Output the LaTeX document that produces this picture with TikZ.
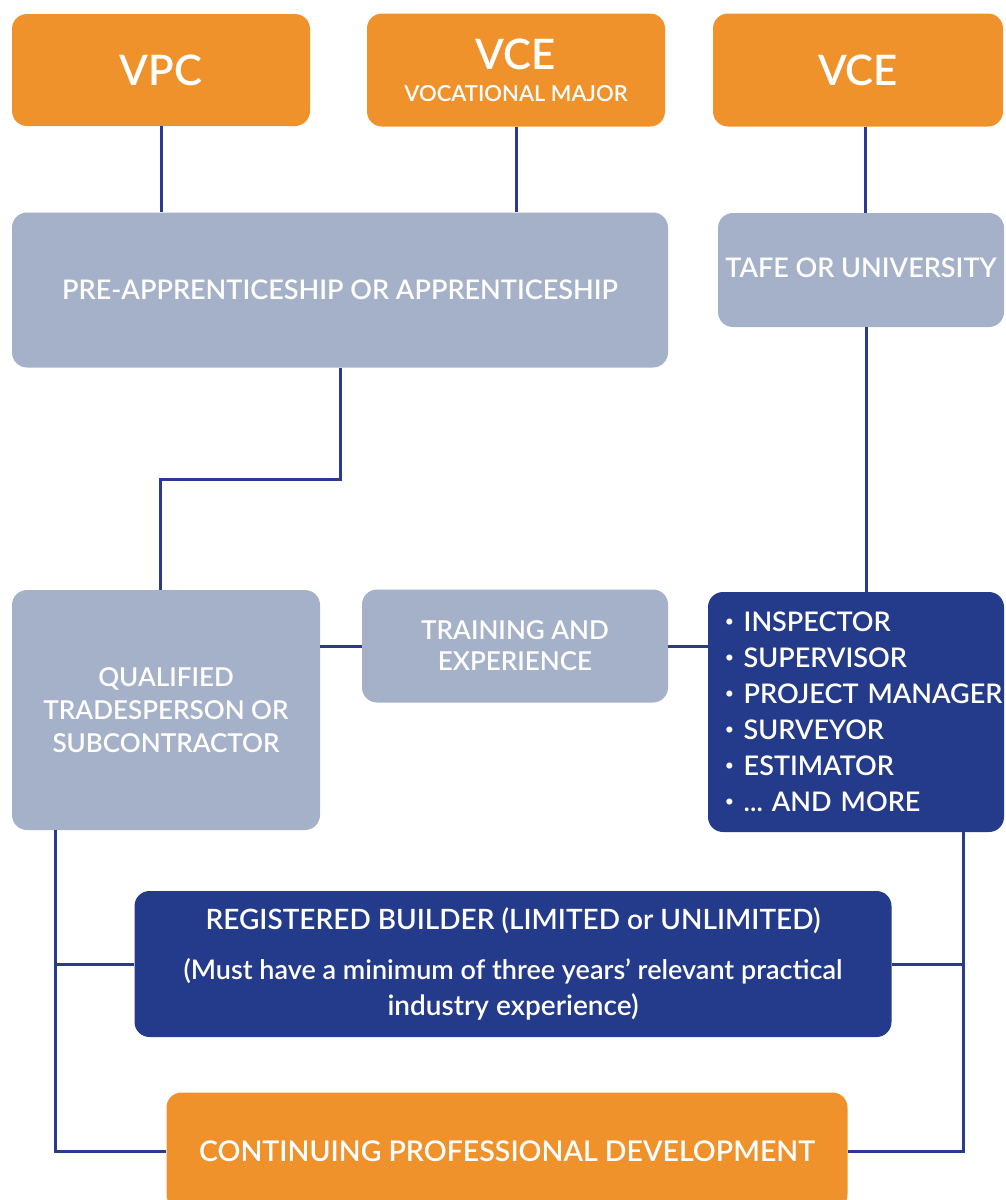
\documentclass[tikz,border=0pt]{standalone}
\usepackage{fontspec}
\setmainfont{Lato}[BoldFont={Lato Semibold}]
\definecolor{cporange}{HTML}{F0922B}
\definecolor{cpgrey}{HTML}{A5B1C9}
\definecolor{cpnavy}{HTML}{243A8A}
\definecolor{cpline}{HTML}{2A3B8E}
\newcommand{\rolebullet}{\raisebox{0.2em}{\fontsize{15}{15}\selectfont\textbullet}\hspace{10pt}}
\newcommand{\nohyph}{\hyphenpenalty=10000 \exhyphenpenalty=10000 \frenchspacing}
\begin{document}
\begin{tikzpicture}[x=1pt, y=-1pt]
	    \tikzset{
	      box/.style={rounded corners=15pt, text=white, inner sep=0pt, align=center,
	        font=\fontsize{27}{34}\selectfont\bfseries},
	      orangebox/.style={box, fill=cporange},
	      greybox/.style={box, fill=cpgrey},
	      navybox/.style={box, fill=cpnavy},
	      link/.style={draw=cpline, line width=3pt}
	    }
	    \useasboundingbox (0,0) rectangle (1006,1200);
	    \clip (0,0) rectangle (1006,1200);
	    % top row
	    \node [orangebox, minimum width=298pt, minimum height=112pt, font=\fontsize{42}{46}\selectfont\bfseries] (vpc) at (161,70) {VPC};
	    \node [orangebox, minimum width=298pt, minimum height=113pt] (vcevm) at (516,70) {{\fontsize{42}{40}\selectfont VCE}\\[-2pt]{\fontsize{22}{22}\selectfont VOCATIONAL MAJOR}};
	    \node [orangebox, minimum width=290pt, minimum height=113pt, font=\fontsize{42}{46}\selectfont\bfseries] (vce) at (858,70) {VCE};
	    % study
	    \node [greybox, minimum width=656pt, minimum height=155pt] (pre) at (340,290) {PRE-APPRENTICESHIP OR APPRENTICESHIP};
	    \node [greybox, minimum width=286pt, minimum height=114pt] (tafe) at (861,270) {TAFE OR UNIVERSITY\vphantom{g}};
	    % work
	    \node [greybox, minimum width=308pt, minimum height=240pt, font=\fontsize{26}{33}\selectfont\bfseries] (qual) at (166,710) {QUALIFIED\\TRADESPERSON OR\\SUBCONTRACTOR};
	    \node [greybox, minimum width=306pt, minimum height=113pt, font=\fontsize{26}{31}\selectfont\bfseries] (train) at (515,646) {TRAINING AND\\EXPERIENCE};
	    \node [navybox, minimum width=296pt, minimum height=240pt, text width=262pt, align=left,
	      font=\fontsize{27}{36}\selectfont\bfseries] (roles) at (856,712)
	      {\nohyph\rolebullet INSPECTOR\\\rolebullet SUPERVISOR\\\mbox{\rolebullet PROJECT MANAGER}\\\rolebullet SURVEYOR\\\rolebullet ESTIMATOR\\\rolebullet ... AND MORE};
	    \node [navybox, minimum width=757pt, minimum height=146pt, font=\fontsize{28}{34}\selectfont\bfseries] (reg) at (513,964)
	      {REGISTERED BUILDER (LIMITED or UNLIMITED)\\[16pt]\fontsize{27}{36}\selectfont (Must have a minimum of three years' relevant practical\\[2pt]industry experience)};
	    \node [orangebox, minimum width=681pt, minimum height=117pt, font=\fontsize{28.5}{30}\selectfont\bfseries] (cpd) at (507,1151) {CONTINUING PROFESSIONAL DEVELOPMENT};
	    % columns for the outer lines
	    \coordinate (lcol) at (55,0);
	    \coordinate (rcol) at (963,0);
	    \draw [link] (vpc.south) -- (vpc.south |- pre.north);
	    \draw [link] (vcevm.south) -- (vcevm.south |- pre.north);
	    \draw [link] ([xshift=7pt]vce.south) -- ([xshift=7pt]vce.south |- tafe.north);
	    \draw [link] (pre.south) -- ++(0,112) -| ([xshift=-6pt]qual.north);
	    \draw [link] ([xshift=5pt]tafe.south) -- ([xshift=5pt]tafe.south |- roles.north);
	    \draw [link] (train.west -| qual.east) -- (train.west);
	    \draw [link] (train.east) -- (train.east -| roles.west);
	    \draw [link] (qual.south -| lcol) |- (cpd.west);
	    \draw [link] (lcol |- reg.west) -- (reg.west);
	    \draw [link] (roles.south -| rcol) |- (cpd.east);
	    \draw [link] (rcol |- reg.east) -- (reg.east);
	\end{tikzpicture}
\end{document}
